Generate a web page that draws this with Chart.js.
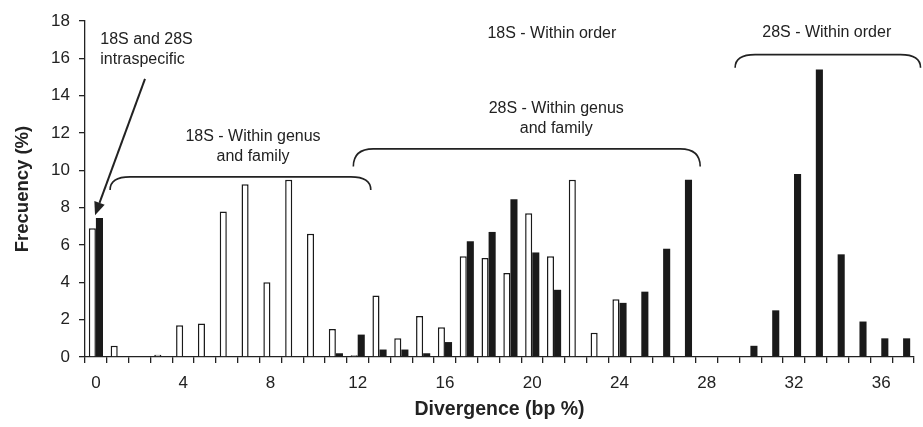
<!DOCTYPE html>
<html>
<head>
<meta charset="utf-8">
<script src="https://cdn.jsdelivr.net/npm/chart.js@4.4.1/dist/chart.umd.min.js"></script>
<style>
  html, body { margin: 0; padding: 0; background: #fff; }
  #wrap { width: 923px; height: 427px; }
</style>
</head>
<body>
<div id="wrap"><canvas id="divergencia"></canvas></div>
<script>
// divergence bins (bp %), one category per unit
const divergencias = [];
for (let i = 0; i <= 37; i++) divergencias.push(i);

// frequency (%) per bin, null where there is no bar
const freq18S = [6.9, 0.6, null, 0.12, 1.7, 1.8, 7.8, 9.25, 4.0, 9.5,
  6.6, 1.5, 0.1, 3.3, 1.0, 2.2, 1.6, 5.4, 5.3, 4.5,
  7.7, 5.4, 9.5, 1.3, 3.1, null, null, null, null, null,
  null, null, null, null, null, null, null, null];
const freq28S = [7.45, null, null, null, null, null, null, null, null, null,
  null, 0.2, 1.2, 0.4, 0.4, 0.2, 0.8, 6.2, 6.7, 8.45,
  5.6, 3.6, null, null, 2.9, 3.5, 5.8, 9.5, null, null,
  0.6, 2.5, 9.8, 15.4, 5.5, 1.9, 1.0, 1.0];

const yTicks = [0, 2, 4, 6, 8, 10, 12, 14, 16, 18];

// notes on the plot, in data units (x = bin, y = %)
const notas = [
  { text: ["18S and 28S", "intraspecific"], x: 0.2, y: 17.0, align: "left" },
  { text: ["18S - Within genus", "and family"], x: 7.2, y: 11.8, align: "center" },
  { text: ["18S - Within order"], x: 20.9, y: 17.3, align: "center" },
  { text: ["28S - Within genus", "and family"], x: 21.1, y: 13.3, align: "center" },
  { text: ["28S - Within order"], x: 33.5, y: 17.4, align: "center" }
];
const llaves = [
  { x1: 0.65, x2: 12.6, yTop: 9.65, yEnd: 8.95 },
  { x1: 11.8, x2: 27.7, yTop: 11.15, yEnd: 10.2 },
  { x1: 29.3, x2: 37.8, yTop: 16.2, yEnd: 15.5 }
];
const flecha = { x1: 2.25, y1: 14.9, x2: -0.04, y2: 7.6 };

const notasPlugin = {
  id: "notas",
  afterDraw(chart) {
    const ctx = chart.ctx;
    const xs = chart.scales.x, ys = chart.scales.y;
    ctx.save();
    ctx.fillStyle = "#222";
    ctx.strokeStyle = "#222";
    ctx.font = "16px 'Liberation Sans', Arial, sans-serif";
    ctx.textBaseline = "middle";
    notas.forEach(n => {
      ctx.textAlign = n.align;
      const px = xs.getPixelForValue(n.x);
      const py = ys.getPixelForValue(n.y);
      n.text.forEach((t, i) => ctx.fillText(t, px, py + i * 20));
    });
    // braces
    ctx.lineWidth = 1.6;
    llaves.forEach(b => {
      const x1 = xs.getPixelForValue(b.x1), x2 = xs.getPixelForValue(b.x2);
      const yt = ys.getPixelForValue(b.yTop), ye = ys.getPixelForValue(b.yEnd);
      const r = 20;
      ctx.beginPath();
      ctx.moveTo(x1, ye);
      ctx.quadraticCurveTo(x1, yt, x1 + r, yt);
      ctx.lineTo(x2 - r, yt);
      ctx.quadraticCurveTo(x2, yt, x2, ye);
      ctx.stroke();
    });
    // arrow
    const ax1 = xs.getPixelForValue(flecha.x1), ay1 = ys.getPixelForValue(flecha.y1);
    const ax2 = xs.getPixelForValue(flecha.x2), ay2 = ys.getPixelForValue(flecha.y2);
    const ang = Math.atan2(ay2 - ay1, ax2 - ax1);
    const len = 13, half = 5.5;
    const bx = ax2 - len * Math.cos(ang), by = ay2 - len * Math.sin(ang);
    ctx.lineWidth = 2;
    ctx.beginPath();
    ctx.moveTo(ax1, ay1);
    ctx.lineTo(bx, by);
    ctx.stroke();
    ctx.beginPath();
    ctx.moveTo(ax2, ay2);
    ctx.lineTo(bx + half * Math.sin(ang), by - half * Math.cos(ang));
    ctx.lineTo(bx - half * Math.sin(ang), by + half * Math.cos(ang));
    ctx.closePath();
    ctx.fill();
    ctx.restore();
  }
};

const fuente = "'Liberation Sans', Arial, sans-serif";

new Chart(document.getElementById("divergencia"), {
  type: "bar",
  data: {
    labels: divergencias,
    datasets: [
      {
        label: "18S",
        data: freq18S,
        backgroundColor: "#ffffff",
        borderColor: "#1a1a1a",
        borderWidth: 1.5,
        categoryPercentage: 0.65,
        barPercentage: 1.0
      },
      {
        label: "28S",
        data: freq28S,
        backgroundColor: "#1a1a1a",
        borderWidth: 0,
        categoryPercentage: 0.65,
        barPercentage: 1.0
      }
    ]
  },
  options: {
    responsive: true,
    maintainAspectRatio: false,
    animation: false,
    layout: { padding: { left: 0, top: 21, right: 9, bottom: 0 } },
    plugins: {
      legend: { display: false },
      tooltip: { enabled: false }
    },
    scales: {
      x: {
        grid: { display: true, drawOnChartArea: false, drawTicks: true, tickLength: 6, color: "#222", lineWidth: 1.3 },
        border: { display: true, color: "#222", width: 1.3 },
        ticks: {
          autoSkip: false,
          maxRotation: 0,
          padding: 10,
          color: "#222",
          font: { family: fuente, size: 17 },
          callback: function (v, i) { return divergencias[i] % 4 === 0 ? String(divergencias[i]) : ""; }
        },
        title: {
          display: true,
          text: "Divergence (bp %)",
          color: "#222",
          font: { family: fuente, size: 19.5, weight: "bold" },
          padding: { top: 0, bottom: 6 }
        },
        afterFit(scale) { scale.height = 70; }
      },
      y: {
        min: 0,
        max: 18,
        afterBuildTicks(scale) { scale.ticks = yTicks.map(v => ({ value: v })); },
        grid: { display: true, drawOnChartArea: false, drawTicks: true, tickLength: 6, color: "#222", lineWidth: 1.3 },
        border: { display: true, color: "#222", width: 1.3 },
        ticks: {
          padding: 9,
          color: "#222",
          font: { family: fuente, size: 17 }
        },
        title: {
          display: true,
          text: "Frecuency (%)",
          color: "#222",
          font: { family: fuente, size: 18.5, weight: "bold" },
          padding: { top: 12, bottom: 0 }
        },
        afterFit(scale) { scale.width = 85; }
      }
    }
  },
  plugins: [notasPlugin]
});
</script>
</body>
</html>
